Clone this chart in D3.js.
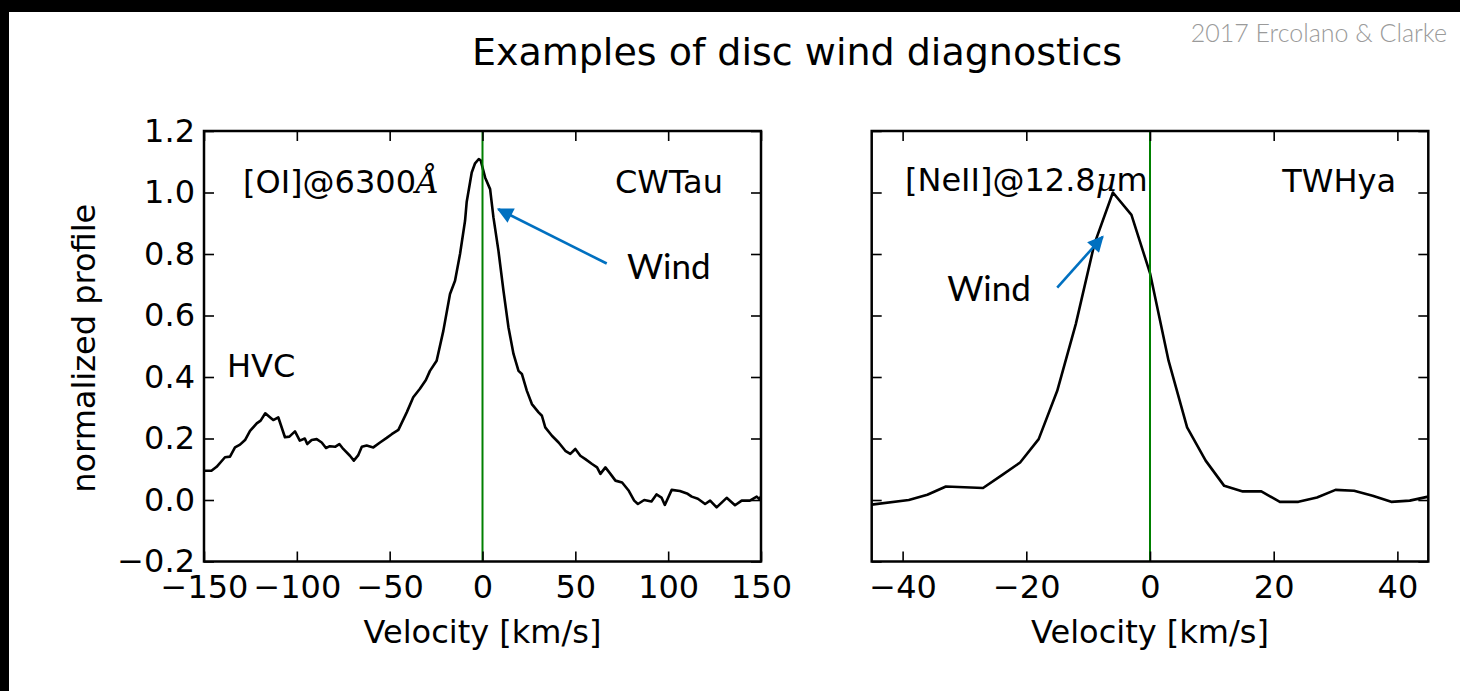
<!DOCTYPE html>
<html>
<head>
<meta charset="utf-8">
<script src="https://cdn.jsdelivr.net/npm/d3@7"></script>
<style>
  html, body { margin: 0; padding: 0; background: #fff; }
  svg { display: block; }
  .tick line { stroke: #000; stroke-width: 1.6; }
  .tick text { font-family: "DejaVu Sans", sans-serif; font-size: 32px; fill: #000; }
  .domain { display: none; }
</style>
</head>
<body>
<svg id="chart" width="1460" height="691"></svg>
<script>
// ---- CW Tau, [OI] 6300 Å line profile ----
const cwTauVelocity = [
  -150, -146, -143.2, -138.7, -136, -133.3, -130.6, -127.9, -125.2, -121.6,
  -119.5, -117, -114.5, -112.7, -110, -106.4, -104, -101, -98.4, -95.7,
  -94.4, -92, -89.3, -86.6, -84.3, -82.2, -79.4, -77.1, -75, -71.4,
  -69.3, -67, -65, -62.4, -58.8, -55.2, -51.6, -48.9, -45.3, -40.8,
  -37.3, -33.7, -30.5, -28.3, -24.7, -21.1, -17.5, -14.8, -12.1, -9.4,
  -8.5, -5.8, -4, -2, -1, 1.4, 4.1, 5.9, 8.6, 11.3,
  14, 16.7, 19.4, 21.2, 23.9, 26.6, 30.2, 32, 33.8, 37.4,
  41, 44.6, 47.3, 50, 52.7, 55.4, 59, 61.7, 63.5, 66.2,
  68.9, 71.6, 75.2, 78.8, 81.7, 83.7, 87.1, 91, 93.7, 96.4,
  98.2, 101.9, 106.3, 110.5, 112.7, 116, 119.9, 122.6, 126.1, 131.5,
  136, 139.6, 144, 147.7, 149.1, 150
];
const cwTauProfile = [
  0.095, 0.095, 0.108, 0.139, 0.141, 0.171, 0.180, 0.195, 0.225, 0.249,
  0.258, 0.282, 0.269, 0.260, 0.269, 0.204, 0.206, 0.223, 0.193, 0.200,
  0.182, 0.195, 0.198, 0.187, 0.169, 0.175, 0.173, 0.182, 0.166, 0.144,
  0.128, 0.145, 0.173, 0.177, 0.171, 0.187, 0.202, 0.214, 0.228, 0.285,
  0.334, 0.362, 0.390, 0.420, 0.453, 0.550, 0.670, 0.713, 0.800, 0.908,
  0.970, 1.065, 1.095, 1.109, 1.105, 1.049, 1.011, 0.919, 0.810, 0.680,
  0.561, 0.475, 0.420, 0.410, 0.355, 0.312, 0.285, 0.274, 0.236, 0.209,
  0.187, 0.160, 0.150, 0.166, 0.144, 0.133, 0.117, 0.106, 0.085, 0.106,
  0.085, 0.063, 0.057, 0.030, -0.002, -0.013, 0.000, -0.005, 0.018, 0.008,
  -0.016, 0.033, 0.029, 0.020, 0.011, 0.004, -0.013, -0.002, -0.024, 0.007,
  -0.017, -0.002, -0.002, 0.011, 0.003, 0.012
];

// ---- TW Hya, [NeII] 12.8 μm line profile ----
const twHyaVelocity = [
  -45, -39, -36, -33, -27, -24, -21, -18, -15, -12,
  -9, -6, -3, 0, 3, 6, 9, 12, 15, 18,
  21, 24, 27, 30, 33, 36, 39, 42, 45
];
const twHyaProfile = [
  -0.015, 0.000, 0.017, 0.044, 0.039, 0.080, 0.122, 0.198, 0.355, 0.572,
  0.832, 1.000, 0.927, 0.738, 0.453, 0.236, 0.128, 0.046, 0.028, 0.028,
  -0.006, -0.006, 0.008, 0.033, 0.030, 0.014, -0.006, -0.002, 0.011
];

// ---- axes ----
const profileRange = [-0.2, 1.2];
const profileTicks = [-0.2, 0.0, 0.2, 0.4, 0.6, 0.8, 1.0, 1.2];
const cwTauRange = [-150, 150];
const cwTauTicks = [-150, -100, -50, 0, 50, 100, 150];
const twHyaRange = [-45, 45];
const twHyaTicks = [-40, -20, 0, 20, 40];

// ---- text ----
const titleText = "Examples of disc wind diagnostics";
const creditText = "2017 Ercolano & Clarke";
const xLabelText = "Velocity [km/s]";
const yLabelText = "normalized profile";

const svg = d3.select("#chart");
const W = 1460, H = 691;

svg.append("rect").attr("width", W).attr("height", H).attr("fill", "#fff");
// slide border
svg.append("rect").attr("x", 0).attr("y", 0).attr("width", W).attr("height", 12).attr("fill", "#000");
svg.append("rect").attr("x", 0).attr("y", 0).attr("width", 9).attr("height", H).attr("fill", "#000");

const defs = svg.append("defs");
defs.append("marker")
  .attr("id", "arrowhead")
  .attr("markerUnits", "userSpaceOnUse")
  .attr("viewBox", "0 0 10 10")
  .attr("refX", 9).attr("refY", 5)
  .attr("markerWidth", 19).attr("markerHeight", 16)
  .attr("orient", "auto")
  .append("path").attr("d", "M0,0 L10,5 L0,10 z").attr("fill", "#0070C0");

// title and credit
svg.append("text")
  .attr("x", 797).attr("y", 65)
  .attr("text-anchor", "middle")
  .style("font-family", "DejaVu Sans").style("font-size", "38px")
  .text(titleText);
svg.append("text")
  .attr("x", 1447).attr("y", 42)
  .attr("text-anchor", "end")
  .style("font-family", "Lato").style("font-weight", 300).style("font-size", "25px")
  .attr("fill", "#9a9a9a")
  .text(creditText);

const plotTop = 131, plotBottom = 561.5;

function drawPanel(cfg) {
  const x = d3.scaleLinear().domain(cfg.xRange).range([cfg.left, cfg.right]);
  const y = d3.scaleLinear().domain(profileRange).range([plotBottom, plotTop]);
  const g = svg.append("g");

  const clipId = "clip-" + cfg.id;
  defs.append("clipPath").attr("id", clipId)
    .append("rect").attr("x", cfg.left).attr("y", plotTop)
    .attr("width", cfg.right - cfg.left).attr("height", plotBottom - plotTop);

  const pts = cfg.v.map((v, i) => [v, cfg.p[i]]);
  g.append("path")
    .datum(pts)
    .attr("clip-path", `url(#${clipId})`)
    .attr("fill", "none")
    .attr("stroke", "#000")
    .attr("stroke-width", 2.6)
    .attr("stroke-linejoin", "round")
    .attr("d", d3.line().x(d => x(d[0])).y(d => y(d[1])));

  // rest velocity
  g.append("line")
    .attr("x1", x(0)).attr("x2", x(0))
    .attr("y1", plotTop).attr("y2", plotBottom)
    .attr("stroke", "#008000").attr("stroke-width", 2);

  // inward ticks on all four sides
  const fmtY = d3.format(".1f");
  g.append("g").attr("transform", `translate(0,${plotBottom})`)
    .call(d3.axisBottom(x).tickValues(cfg.xTicks).tickSize(-10).tickPadding(14).tickFormat(d3.format("d")));
  g.append("g").attr("transform", `translate(0,${plotTop})`)
    .call(d3.axisTop(x).tickValues(cfg.xTicks).tickSize(-10).tickFormat(""));
  g.append("g").attr("transform", `translate(${cfg.left},0)`)
    .call(d3.axisLeft(y).tickValues(profileTicks).tickSize(-10).tickPadding(9)
      .tickFormat(cfg.yLabels ? fmtY : ""));
  g.append("g").attr("transform", `translate(${cfg.right},0)`)
    .call(d3.axisRight(y).tickValues(profileTicks).tickSize(-10).tickFormat(""));

  // frame
  g.append("rect")
    .attr("x", cfg.left).attr("y", plotTop)
    .attr("width", cfg.right - cfg.left).attr("height", plotBottom - plotTop)
    .attr("fill", "none").attr("stroke", "#000").attr("stroke-width", 2.5);

  // x label
  g.append("text")
    .attr("x", (cfg.left + cfg.right) / 2).attr("y", 643)
    .attr("text-anchor", "middle")
    .style("font-family", "DejaVu Sans").style("font-size", "32px")
    .text(xLabelText);

  // line name and source name
  const lbl = g.append("text")
    .attr("x", cfg.lineLabel.x).attr("y", cfg.lineLabel.y)
    .style("font-family", "DejaVu Sans").style("font-size", "32px");
  lbl.append("tspan").text(cfg.lineLabel.text);
  lbl.append("tspan").text(cfg.lineLabel.unit)
    .style("font-family", "DejaVu Serif").style("font-style", "italic");
  lbl.append("tspan").text(cfg.lineLabel.tail || "");

  g.append("text")
    .attr("x", cfg.source.x).attr("y", cfg.source.y)
    .attr("text-anchor", "end")
    .style("font-family", "DejaVu Sans").style("font-size", "32px")
    .text(cfg.source.text);

  if (cfg.extra) {
    g.append("text")
      .attr("x", cfg.extra.x).attr("y", cfg.extra.y)
      .style("font-family", "DejaVu Sans").style("font-size", "32px")
      .text(cfg.extra.text);
  }

  // wind annotation (positions in data units)
  const w = cfg.wind;
  g.append("line")
    .attr("x1", x(w.from[0])).attr("y1", y(w.from[1]))
    .attr("x2", x(w.to[0])).attr("y2", y(w.to[1]))
    .attr("stroke", "#0070C0").attr("stroke-width", 2.6)
    .attr("marker-end", "url(#arrowhead)");
  g.append("text")
    .attr("x", x(w.label[0])).attr("y", y(w.label[1]))
    .style("font-family", "Lato").style("font-size", "35px")
    .text("Wind");

  return { x, y };
}

drawPanel({
  id: "cwtau",
  left: 204, right: 761,
  xRange: cwTauRange, xTicks: cwTauTicks,
  v: cwTauVelocity, p: cwTauProfile,
  yLabels: true,
  lineLabel: { x: 243, y: 193, text: "[OI]@6300", unit: "Å" },
  source: { x: 723, y: 193, text: "CWTau" },
  extra: { x: 227, y: 377, text: "HVC" },
  wind: { from: [66.9, 0.769], to: [8.5, 0.946], label: [77.8, 0.72] }
});

drawPanel({
  id: "twhya",
  left: 871.7, right: 1428.3,
  xRange: twHyaRange, xTicks: twHyaTicks,
  v: twHyaVelocity, p: twHyaProfile,
  yLabels: false,
  lineLabel: { x: 905, y: 191, text: "[NeII]@12.8", unit: "μ", tail: "m" },
  source: { x: 1396, y: 192, text: "TWHya" },
  wind: { from: [-15.0, 0.691], to: [-7.65, 0.856], label: [-32.8, 0.648] }
});

// shared y label
svg.append("text")
  .attr("transform", `translate(95,${(plotTop + plotBottom) / 2 + 2}) rotate(-90)`)
  .attr("text-anchor", "middle")
  .style("font-family", "DejaVu Sans").style("font-size", "32px")
  .text(yLabelText);
</script>
</body>
</html>
